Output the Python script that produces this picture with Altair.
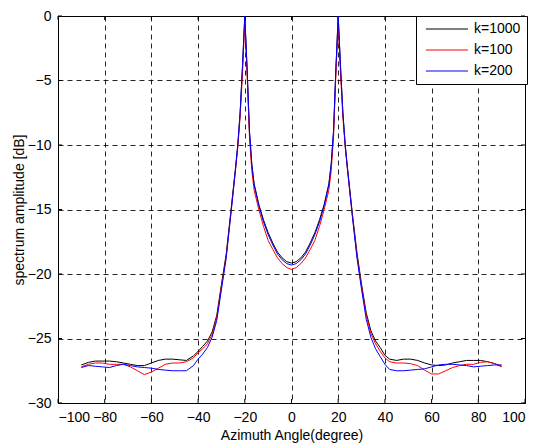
import altair as alt
import pandas as pd

angles = [-90, -87, -84, -81, -78, -75, -72, -69, -66, -63, -60, -57, -54, -51, -48, -45, -42,
          -40, -38, -36, -34, -32, -30, -28, -26, -24,
          -23, -22, -21, -20, -19, -18, -17, -16,
          -14, -12, -10, -8, -6, -4, -2, 0,
          2, 4, 6, 8, 10, 12, 14, 16,
          17, 18, 19, 20, 21, 22, 23, 24,
          26, 28, 30, 32, 34, 36, 38, 40,
          42, 45, 48, 51, 54, 57, 60, 63, 66, 69, 72, 75, 78, 81, 84, 87, 90]

k1000 = [-27.05, -26.85, -26.75, -26.75, -26.75, -26.8, -26.9, -27.0, -27.1, -27.1, -26.9, -26.7, -26.6, -26.6, -26.65, -26.7, -26.35,
         -26.0, -25.6, -25.2, -24.5, -23.2, -20.8, -18.5, -15.2, -11.8,
         -10.0, -7.5, -4.0, 0.0, -4.2, -9.0, -11.5, -13.0,
         -14.6, -15.8, -16.8, -17.6, -18.3, -18.75, -19.05, -19.15,
         -19.05, -18.75, -18.3, -17.6, -16.8, -15.8, -14.6, -13.0,
         -11.5, -9.0, -4.2, 0.0, -4.0, -7.5, -10.0, -11.8,
         -15.2, -18.3, -20.8, -23.0, -24.4, -25.2, -25.7, -26.3,
         -26.6, -26.7, -26.6, -26.6, -26.7, -26.9, -27.05, -27.1, -27.05, -26.9, -26.8, -26.7, -26.7, -26.7, -26.8, -26.95, -27.15]

k100 = [-27.2, -27.0, -26.9, -26.9, -27.0, -27.0, -27.0, -27.2, -27.5, -27.8, -27.6, -27.3, -27.0, -26.9, -26.9, -26.8, -26.5,
        -26.1, -25.8, -25.4, -24.7, -23.4, -21.0, -18.7, -15.4, -12.0,
        -10.2, -7.8, -4.5, -0.4, -4.6, -9.4, -12.0, -13.5,
        -15.0, -16.3, -17.4, -18.1, -18.75, -19.2, -19.5, -19.65,
        -19.5, -19.2, -18.75, -18.1, -17.4, -16.3, -15.0, -13.5,
        -12.0, -9.4, -4.6, -0.6, -4.5, -7.8, -10.2, -12.0,
        -15.4, -18.5, -21.0, -23.2, -24.6, -25.4, -26.0, -26.5,
        -26.8, -26.9, -26.9, -26.95, -27.1, -27.45, -27.75, -27.75, -27.5, -27.25, -27.1, -27.0, -27.0, -26.85, -26.8, -26.95, -27.2]

k200 = [-27.25, -27.1, -27.15, -27.2, -27.25, -27.1, -27.0, -27.1, -27.2, -27.25, -27.3, -27.4, -27.45, -27.5, -27.5, -27.5, -27.1,
        -26.6, -26.2, -25.7, -24.9, -23.6, -21.2, -18.8, -15.4, -11.9,
        -10.0, -7.5, -3.9, 0.0, -4.1, -8.9, -11.5, -13.1,
        -14.7, -15.95, -16.95, -17.75, -18.45, -18.9, -19.2, -19.3,
        -19.2, -18.9, -18.45, -17.75, -16.95, -15.95, -14.7, -13.1,
        -11.5, -8.9, -4.1, 0.0, -3.9, -7.5, -10.0, -11.9,
        -15.4, -18.7, -21.2, -23.5, -24.9, -25.8, -26.4, -27.0,
        -27.4, -27.5, -27.5, -27.45, -27.4, -27.35, -27.2, -27.05, -27.0, -27.0, -27.05, -27.1, -27.2, -27.15, -27.1, -27.05, -27.05]

series_names = ["k=1000", "k=100", "k=200"]
series_colors = ["#000000", "#ff0000", "#0000ff"]
x_ticks = [-100, -80, -60, -40, -20, 0, 20, 40, 60, 80, 100]
y_ticks = [-30, -25, -20, -15, -10, -5, 0]

FONT = "Liberation Sans"
FS = 14
W, H = 467, 387

frames = []
for name, vals in zip(series_names, [k1000, k100, k200]):
    frames.append(pd.DataFrame({"angle": angles, "amp": vals, "series": name}))

color = alt.Color(
    "series:N",
    scale=alt.Scale(domain=series_names, range=series_colors),
    legend=alt.Legend(
        title=None, orient="none", legendX=358, legendY=0,
        strokeColor="black", fillColor="white", padding=6, cornerRadius=0,
        symbolType="M-5,0H5", symbolSize=71, symbolStrokeWidth=1, symbolOffset=18,
        labelFont=FONT, labelFontSize=FS, labelColor="black", labelOffset=20,
        rowPadding=7,
    ),
)

xaxis = alt.Axis(values=x_ticks, grid=True, gridDash=[5, 4], gridColor="black", gridOpacity=0.85,
                 ticks=False, labelPadding=7, labelFont=FONT, labelFontSize=FS, labelColor="black",
                 domainColor="black", title="Azimuth Angle(degree)", titleFont=FONT, titleFontSize=FS,
                 titleFontWeight="normal", titleColor="black", titleY=32, titleBaseline="middle")
yaxis = alt.Axis(values=y_ticks, grid=True, gridDash=[5, 4], gridColor="black", gridOpacity=0.85,
                 ticks=False, labelPadding=7, labelFont=FONT, labelFontSize=FS, labelColor="black",
                 domainColor="black", title="spectrum amplitude [dB]", titleFont=FONT, titleFontSize=FS,
                 titleFontWeight="normal", titleColor="black", titleX=-39, titleY=H / 2,
                 titleAngle=-90, titleAlign="center", titleBaseline="middle")

xs = alt.Scale(domain=[-100, 100], nice=False, zero=False)
ys = alt.Scale(domain=[-30, 0], nice=False, zero=False)

layers = []
for i, f in enumerate(frames):
    if i == 0:
        enc_x = alt.X("angle:Q", scale=xs, axis=xaxis)
        enc_y = alt.Y("amp:Q", scale=ys, axis=yaxis)
    else:
        enc_x = alt.X("angle:Q", scale=xs)
        enc_y = alt.Y("amp:Q", scale=ys)
    layers.append(alt.Chart(f).mark_line(strokeWidth=1, clip=True).encode(x=enc_x, y=enc_y, color=color))

xt = pd.DataFrame({"t": x_ticks})
yt = pd.DataFrame({"t": y_ticks})
tick_bottom = alt.Chart(xt).mark_rule(color="black", strokeWidth=1).encode(
    x=alt.X("t:Q", scale=xs), y=alt.value(H), y2=alt.value(H - 4))
tick_top = alt.Chart(xt).mark_rule(color="black", strokeWidth=1).encode(
    x=alt.X("t:Q", scale=xs), y=alt.value(0), y2=alt.value(4))
tick_left = alt.Chart(yt).mark_rule(color="black", strokeWidth=1).encode(
    y=alt.Y("t:Q", scale=ys), x=alt.value(0), x2=alt.value(4))
tick_right = alt.Chart(yt).mark_rule(color="black", strokeWidth=1).encode(
    y=alt.Y("t:Q", scale=ys), x=alt.value(W), x2=alt.value(W - 4))

chart = alt.layer(tick_bottom, tick_top, tick_left, tick_right, *layers).properties(
    width=W, height=H,
    autosize=alt.AutoSizeParams(type="none"),
    padding={"left": 58, "top": 16, "right": 14, "bottom": 41},
    background="white",
).configure_view(stroke="black", strokeWidth=1)

chart.save("out.html", embed_options={"renderer": "svg", "actions": False})
